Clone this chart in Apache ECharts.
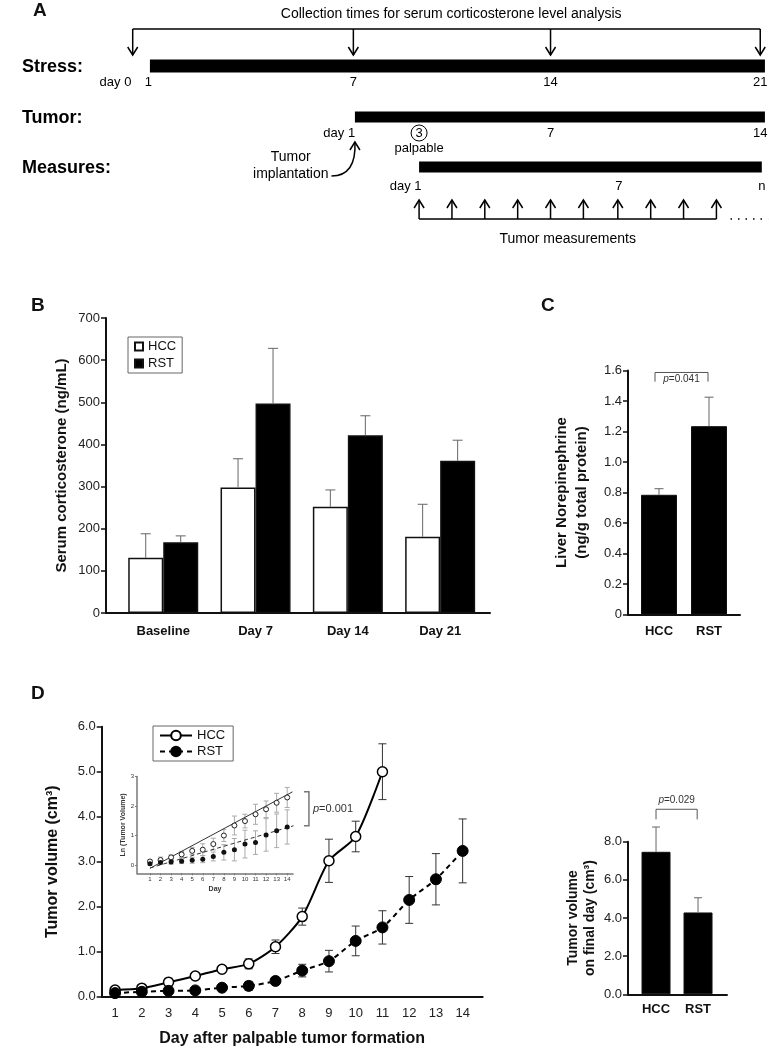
<!DOCTYPE html>
<html>
<head>
<meta charset="utf-8">
<script src="https://cdn.jsdelivr.net/npm/echarts@6.0.0/dist/echarts.min.js"></script>
<style>
html, body { margin: 0; padding: 0; background: #fff; }
#fig { width: 769px; height: 1050px; }
</style>
</head>
<body>
<div id="fig"></div>
<script>
// ---------- A: study timeline, positions read in "tumor days" ----------
const phaseNames = ['Stress:', 'Tumor:', 'Measures:'];
const phaseFrom = [-5.55, 1, 3.05];
const phaseTo = [14.1, 14.1, 14];
const stressTickText = ['day 0', '1', '7', '14', '21'];
const stressTickPos = [-6.65, -5.6, 0.95, 7.25, 13.95];
const collectPos = [-6.1, 0.95, 7.25, 13.95];
const tumorTickText = ['day 1', '3', '7', '14'];
const tumorTickPos = [0.5, 3.05, 7.25, 13.95];
const measureTickText = ['day 1', '7', 'n'];
const measureTickPos = [2.62, 9.43, 14];
const measurePos = [3.05, 4.1, 5.15, 6.2, 7.25, 8.3, 9.4, 10.45, 11.5, 12.55];

// ---------- B: serum corticosterone ----------
const bCats = ['Baseline', 'Day 7', 'Day 14', 'Day 21'];
const bHCC = [131, 298, 252, 181];
const bHCCErr = [57, 68, 40, 77];
const bRST = [168, 497, 422, 361];
const bRSTErr = [15, 131, 46, 49];

// ---------- C: liver norepinephrine ----------
const cCats = ['HCC', 'RST'];
const cVal = [0.785, 1.235];
const cErr = [0.04, 0.19];
const cSigX = [0.92, 1.98];
const cSigY = [1.587, 1.527];

// ---------- D: tumor volume ----------
const days = [1, 2, 3, 4, 5, 6, 7, 8, 9, 10, 11, 12, 13, 14];
const dHCC = [0.15, 0.19, 0.32, 0.46, 0.61, 0.73, 1.11, 1.78, 3.02, 3.56, 5.0];
const dHCCErr = [0.05, 0.07, 0.09, 0.07, 0.07, 0.11, 0.15, 0.19, 0.48, 0.34, 0.62];
const dRST = [0.08, 0.11, 0.13, 0.14, 0.2, 0.24, 0.35, 0.58, 0.79, 1.24, 1.54, 2.15, 2.61, 3.24];
const dRSTErr = [0.03, 0.04, 0.05, 0.05, 0.06, 0.1, 0.08, 0.14, 0.24, 0.33, 0.37, 0.52, 0.57, 0.71];

// inset: ln(tumor volume)
const lnHCC = [0.12, 0.17, 0.26, 0.36, 0.48, 0.52, 0.71, 1.0, 1.34, 1.49, 1.72, 1.89, 2.11, 2.29];
const lnHCCErr = [0.05, 0.1, 0.08, 0.1, 0.12, 0.2, 0.2, 0.2, 0.32, 0.23, 0.34, 0.28, 0.32, 0.34];
const lnRST = [0.04, 0.09, 0.1, 0.13, 0.16, 0.2, 0.29, 0.43, 0.52, 0.71, 0.76, 1.02, 1.16, 1.29];
const lnRSTErr = [0.04, 0.06, 0.07, 0.08, 0.1, 0.12, 0.15, 0.26, 0.38, 0.47, 0.4, 0.55, 0.57, 0.58];
const fitHCC = [[1, -0.11], [14.5, 2.48]];
const fitRST = [[1, -0.1], [14.6, 1.33]];
const lnSigX = 16.06;

// final-day volume
const fCats = ['HCC', 'RST'];
const fVal = [7.47, 4.29];
const fErr = [1.3, 0.77];
const fSigX = [1.0, 1.98];
const fSigY = [9.7, 9.17];

const FONT = '"Liberation Sans", Arial, sans-serif';
const INK = '#111';

function drawTimeline(params, api) {
  const at = (d, y) => api.coord([d, y]);
  const kids = [];
  const line = (p, q, extra) => kids.push({ type: 'line', shape: { x1: p[0], y1: p[1], x2: q[0], y2: q[1] }, style: Object.assign({ stroke: '#000', lineWidth: 1.5 }, extra || {}) });
  const txt = (p, s, extra) => kids.push({ type: 'text', x: p[0], y: p[1], style: Object.assign({ text: s, fill: '#000', fontFamily: FONT, fontSize: 13, align: 'center', verticalAlign: 'middle' }, extra || {}) });
  const head = (p, dir) => kids.push({ type: 'polyline', shape: { points: [[p[0] - 5, p[1] - 8 * dir], [p[0], p[1]], [p[0] + 5, p[1] - 8 * dir]] }, style: { stroke: '#000', lineWidth: 1.5, fill: null } });

  // collection arrows
  const last = collectPos.length - 1;
  line(at(collectPos[0], 29), at(collectPos[last], 29));
  collectPos.forEach(d => { line(at(d, 29), at(d, 55)); head(at(d, 55), 1); });
  txt(at((collectPos[0] + collectPos[last]) / 2 + 0.15, 14), 'Collection times for serum corticosterone level analysis', { fontSize: 14 });

  // phase bars and row labels
  const rowY = [66, 117, 167];
  const barH = [13, 11, 11];
  phaseNames.forEach((n, i) => {
    const a = at(phaseFrom[i], rowY[i] - barH[i] / 2);
    const b = at(phaseTo[i], rowY[i] + barH[i] / 2);
    kids.push({ type: 'rect', shape: { x: a[0], y: a[1], width: b[0] - a[0], height: b[1] - a[1] }, style: { fill: '#000' } });
    txt(at(-9.64, rowY[i] + 1), n, { align: 'left', fontSize: 18, fontWeight: 'bold' });
  });

  stressTickText.forEach((s, i) => txt(at(stressTickPos[i], 82), s));
  tumorTickText.forEach((s, i) => txt(at(tumorTickPos[i], 133), s));
  const c3 = at(tumorTickPos[1], 133);
  kids.push({ type: 'circle', shape: { cx: c3[0], cy: c3[1], r: 8 }, style: { stroke: '#000', lineWidth: 1, fill: null } });
  txt(at(tumorTickPos[1], 148), 'palpable');

  // implantation note with curved arrow
  txt(at(-1.05, 157), 'Tumor', { fontSize: 14 });
  txt(at(-1.05, 174), 'implantation', { fontSize: 14 });
  const s0 = at(0.25, 176), s1 = at(1, 142), cp = at(1.05, 176);
  kids.push({ type: 'bezierCurve', shape: { x1: s0[0], y1: s0[1], x2: s1[0], y2: s1[1], cpx1: cp[0], cpy1: cp[1] }, style: { stroke: '#000', lineWidth: 1.5, fill: null } });
  head(s1, -1);

  measureTickText.forEach((s, i) => txt(at(measureTickPos[i], 186), s));
  const mLast = measurePos.length - 1;
  line(at(measurePos[0], 219), at(measurePos[mLast], 219));
  measurePos.forEach(d => { line(at(d, 219), at(d, 200)); head(at(d, 200), -1); });
  line(at(measurePos[mLast] + 0.45, 219), at(14.2, 219), { lineDash: [1.5, 6], lineWidth: 1.5 });
  txt(at((measurePos[0] + measurePos[mLast]) / 2, 239), 'Tumor measurements', { fontSize: 14 });

  return { type: 'group', children: kids };
}

function errorSeries(axis, means, errs, opt) {
  return {
    type: 'custom', xAxisIndex: axis, yAxisIndex: axis, z: opt.z || 3, silent: true,
    data: means.map((m, i) => [i + 1, m, errs[i]]),
    renderItem: (params, api) => {
      const x = api.value(0), m = api.value(1), e = api.value(2);
      const hi = api.coord([x, m + e]);
      const lo = api.coord([x, opt.both ? m - e : m]);
      const cx = hi[0] + (opt.dx || 0), h = opt.cap / 2;
      const st = { stroke: opt.color, lineWidth: opt.width || 1 };
      const kids = [
        { type: 'line', shape: { x1: cx, y1: lo[1], x2: cx, y2: hi[1] }, style: st },
        { type: 'line', shape: { x1: cx - h, y1: hi[1], x2: cx + h, y2: hi[1] }, style: st }
      ];
      if (opt.both) kids.push({ type: 'line', shape: { x1: cx - h, y1: lo[1], x2: cx + h, y2: lo[1] }, style: st });
      return { type: 'group', children: kids };
    }
  };
}

function pText(text, p, extra) {
  return { type: 'text', x: p[0], y: p[1], style: Object.assign({ text: '{i|p}=' + text, fill: '#333', fontFamily: FONT, fontSize: 10, align: 'center', verticalAlign: 'middle', rich: { i: { fontStyle: 'italic', fontFamily: FONT, fontSize: 10, fill: '#333' } } }, extra || {}) };
}

function topBracket(axis, xs, ys, label, labelY) {
  return {
    type: 'custom', xAxisIndex: axis, yAxisIndex: axis, silent: true, data: [[xs[0], ys[0]]],
    renderItem: (params, api) => {
      const a = api.coord([xs[0], ys[1]]), b = api.coord([xs[0], ys[0]]);
      const c = api.coord([xs[1], ys[0]]), d = api.coord([xs[1], ys[1]]);
      return { type: 'group', children: [
        { type: 'polyline', shape: { points: [a, b, c, d] }, style: { stroke: '#555', lineWidth: 1, fill: null } },
        pText(label, api.coord([(xs[0] + xs[1]) / 2, labelY]))
      ] };
    }
  };
}

function axisPair(grid, xExtra, yExtra) {
  const base = {
    gridIndex: grid, type: 'value',
    axisLine: { show: true, onZero: false, lineStyle: { color: INK, width: 2 } },
    axisTick: { show: true, length: 5, lineStyle: { color: INK, width: 1.5 } },
    splitLine: { show: false },
    axisLabel: { color: '#222', fontSize: 13, fontFamily: FONT, margin: 6 }
  };
  const merge = (e) => {
    const o = Object.assign({}, base, e);
    ['axisLine', 'axisTick', 'axisLabel'].forEach(k => { if (e[k]) o[k] = Object.assign({}, base[k], e[k]); });
    return o;
  };
  return [merge(xExtra), merge(yExtra)];
}

const axB = axisPair(1,
  { min: 0.38, max: 4.54, axisTick: { show: false }, axisLabel: { customValues: [1, 2, 3, 4], formatter: v => bCats[v - 1], fontWeight: 'bold', color: INK, margin: 12 } },
  { min: 0, max: 700, interval: 100, name: 'Serum corticosterone (ng/mL)', nameLocation: 'middle', nameGap: 37,
    nameTextStyle: { fontSize: 15, fontWeight: 'bold', color: INK, fontFamily: FONT } });
const axC = axisPair(2,
  { min: 0.38, max: 2.62, axisTick: { show: false }, axisLabel: { customValues: [1, 2], formatter: v => cCats[v - 1], fontWeight: 'bold', color: INK, margin: 10 } },
  { min: 0, max: 1.6, interval: 0.2, axisLabel: { formatter: v => (v === 0 ? '0' : v.toFixed(1)) },
    name: 'Liver Norepinephrine\n(ng/g total protein)', nameLocation: 'middle', nameGap: 36,
    nameTextStyle: { fontSize: 15, fontWeight: 'bold', color: INK, fontFamily: FONT, lineHeight: 20 } });
const axD = axisPair(3,
  { min: 0.5, max: 14.75, axisTick: { show: false }, axisLabel: { customValues: days, margin: 10 },
    name: 'Day after palpable tumor formation', nameLocation: 'middle', nameGap: 34,
    nameTextStyle: { fontSize: 16, fontWeight: 'bold', color: INK, fontFamily: FONT } },
  { min: 0, max: 6, interval: 1, axisLabel: { formatter: v => v.toFixed(1) },
    name: 'Tumor volume (cm³)', nameLocation: 'middle', nameGap: 41,
    nameTextStyle: { fontSize: 16, fontWeight: 'bold', color: INK, fontFamily: FONT } });
const axIn = axisPair(4,
  { min: -0.23, max: 14.55, axisLine: { lineStyle: { color: '#777', width: 1.5 } },
    axisTick: { customValues: days, length: 2, lineStyle: { color: '#777', width: 1 } },
    axisLabel: { customValues: days, fontSize: 6, margin: 3, color: '#333' },
    name: 'Day', nameLocation: 'middle', nameGap: 12, nameTextStyle: { fontSize: 7, fontWeight: 'bold', color: '#333', fontFamily: FONT } },
  { min: -0.28, max: 3, axisLine: { lineStyle: { color: '#777', width: 1.5 } },
    axisTick: { customValues: [0, 1, 2, 3], length: 2, lineStyle: { color: '#777', width: 1 } },
    axisLabel: { customValues: [0, 1, 2, 3], fontSize: 6, margin: 3, color: '#333' },
    name: 'Ln (Tumor Volume)', nameLocation: 'middle', nameGap: 10, nameTextStyle: { fontSize: 7, fontWeight: 'bold', color: '#333', fontFamily: FONT } });
const axF = axisPair(5,
  { min: 0.333, max: 2.69, axisTick: { show: false }, axisLabel: { customValues: [1, 2], formatter: v => fCats[v - 1], fontWeight: 'bold', color: INK, margin: 9 } },
  { min: 0, max: 8, interval: 2, axisLabel: { formatter: v => v.toFixed(1) },
    name: 'Tumor volume\non final day (cm³)', nameLocation: 'middle', nameGap: 29,
    nameTextStyle: { fontSize: 14, fontWeight: 'bold', color: INK, fontFamily: FONT, lineHeight: 17 } });

const letters = [['A', 33, 1], ['B', 31, 296], ['C', 541, 296], ['D', 31, 684]];

const option = {
  animation: false,
  backgroundColor: '#fff',
  textStyle: { fontFamily: FONT },
  title: letters.map(([t, l, tp]) => ({ text: t, left: l, top: tp, padding: 0, textStyle: { fontSize: 19, fontWeight: 'bold', color: INK, fontFamily: FONT } })),
  grid: [
    { left: 0, top: 0, width: 769, height: 250 },
    { left: 106, top: 318, width: 384, height: 295 },
    { left: 628, top: 370.5, width: 112, height: 244 },
    { left: 101.7, top: 726.7, width: 381, height: 270 },
    { left: 137, top: 776.5, width: 156, height: 96.8 },
    { left: 628, top: 841.7, width: 99, height: 152.6 }
  ],
  xAxis: [{ gridIndex: 0, type: 'value', min: -10.34, max: 14.23, show: false }, axB[0], axC[0], axD[0], axIn[0], axF[0]],
  yAxis: [{ gridIndex: 0, type: 'value', min: 0, max: 250, inverse: true, show: false }, axB[1], axC[1], axD[1], axIn[1], axF[1]],
  legend: [
    { data: ['B-HCC', 'B-RST'], formatter: n => n.slice(2), orient: 'vertical', left: 128, top: 337, icon: 'rect',
      itemWidth: 8, itemHeight: 8, itemGap: 4, padding: [3, 6, 3, 6], borderColor: '#666', borderWidth: 1,
      textStyle: { fontSize: 13, color: INK, fontFamily: FONT } },
    { data: ['D-HCC', 'D-RST'], formatter: n => n.slice(2), orient: 'vertical', left: 153, top: 726,
      itemWidth: 32, itemHeight: 12, itemGap: 3, padding: [3, 8, 3, 6], borderColor: '#666', borderWidth: 1,
      textStyle: { fontSize: 13, color: INK, fontFamily: FONT } }
  ],
  series: [
    { type: 'custom', name: 'timeline', xAxisIndex: 0, yAxisIndex: 0, silent: true, data: [[0, 0]], renderItem: drawTimeline },

    // B
    { type: 'bar', name: 'B-HCC', xAxisIndex: 1, yAxisIndex: 1, barWidth: 35, barGap: '0%',
      data: bHCC.map((v, i) => [i + 1, v]), itemStyle: { color: '#fff', borderColor: INK, borderWidth: 1.5 } },
    { type: 'bar', name: 'B-RST', xAxisIndex: 1, yAxisIndex: 1, barWidth: 35, barGap: '0%',
      data: bRST.map((v, i) => [i + 1, v]), itemStyle: { color: '#000', borderColor: INK, borderWidth: 1.5 } },
    errorSeries(1, bHCC, bHCCErr, { dx: -17.5, cap: 10, color: '#666' }),
    errorSeries(1, bRST, bRSTErr, { dx: 17.5, cap: 10, color: '#666' }),

    // C
    { type: 'bar', name: 'C-NE', xAxisIndex: 2, yAxisIndex: 2, barWidth: 36,
      data: cVal.map((v, i) => [i + 1, v]), itemStyle: { color: '#000', borderColor: INK, borderWidth: 1 } },
    errorSeries(2, cVal, cErr, { cap: 9, color: '#666' }),
    topBracket(2, cSigX, cSigY, '0.041', 1.54),

    // D main
    errorSeries(3, dHCC, dHCCErr, { both: true, cap: 8, color: '#333', z: 1 }),
    errorSeries(3, dRST, dRSTErr, { both: true, cap: 8, color: '#333', z: 1 }),
    { type: 'line', name: 'D-HCC', xAxisIndex: 3, yAxisIndex: 3, z: 4, smooth: 0.25,
      data: dHCC.map((v, i) => [days[i], v]), symbol: 'circle', symbolSize: 10,
      lineStyle: { color: '#000', width: 2 }, itemStyle: { color: '#fff', borderColor: '#000', borderWidth: 1.5 } },
    { type: 'line', name: 'D-RST', xAxisIndex: 3, yAxisIndex: 3, z: 4, smooth: 0.25,
      data: dRST.map((v, i) => [days[i], v]), symbol: 'circle', symbolSize: 11,
      lineStyle: { color: '#000', width: 2, type: [5, 4] }, itemStyle: { color: '#000', borderColor: '#000', borderWidth: 1 } },

    // inset
    errorSeries(4, lnHCC, lnHCCErr, { both: true, cap: 5, color: '#aaa', z: 1 }),
    errorSeries(4, lnRST, lnRSTErr, { both: true, cap: 5, color: '#aaa', z: 1 }),
    { type: 'line', name: 'fit-HCC', xAxisIndex: 4, yAxisIndex: 4, symbol: 'none', data: fitHCC,
      lineStyle: { color: '#333', width: 1 }, z: 2 },
    { type: 'line', name: 'fit-RST', xAxisIndex: 4, yAxisIndex: 4, symbol: 'none', data: fitRST,
      lineStyle: { color: '#333', width: 1, type: [4, 3] }, z: 2 },
    { type: 'scatter', name: 'ln-HCC', xAxisIndex: 4, yAxisIndex: 4, symbolSize: 5, z: 4,
      data: lnHCC.map((v, i) => [days[i], v]), itemStyle: { color: '#fff', borderColor: '#222', borderWidth: 1, opacity: 1 } },
    { type: 'scatter', name: 'ln-RST', xAxisIndex: 4, yAxisIndex: 4, symbolSize: 5, z: 4,
      data: lnRST.map((v, i) => [days[i], v]), itemStyle: { color: '#111', opacity: 1 } },
    { type: 'custom', name: 'ln-sig', xAxisIndex: 4, yAxisIndex: 4, silent: true, data: [[lnSigX, 0]],
      renderItem: (params, api) => {
        const top = api.coord([lnSigX, fitHCC[1][1]]), bot = api.coord([lnSigX, fitRST[1][1]]);
        return { type: 'group', children: [
          { type: 'polyline', shape: { points: [[top[0] - 5, top[1]], top, bot, [bot[0] - 5, bot[1]]] }, style: { stroke: '#777', lineWidth: 1.5, fill: null } },
          pText('0.001', [top[0] + 4, (top[1] + bot[1]) / 2], { align: 'left', fontSize: 11, rich: { i: { fontStyle: 'italic', fontSize: 11, fill: '#333', fontFamily: FONT } } })
        ] };
      } },

    // final day
    { type: 'bar', name: 'F-vol', xAxisIndex: 5, yAxisIndex: 5, barWidth: 29,
      data: fVal.map((v, i) => [i + 1, v]), itemStyle: { color: '#000', borderColor: INK, borderWidth: 1 } },
    errorSeries(5, fVal, fErr, { cap: 8, color: '#666' }),
    topBracket(5, fSigX, fSigY, '0.029', 10.15)
  ]
};

const chart = echarts.init(document.getElementById('fig'), null, { renderer: 'canvas' });
chart.setOption(option);
</script>
</body>
</html>
